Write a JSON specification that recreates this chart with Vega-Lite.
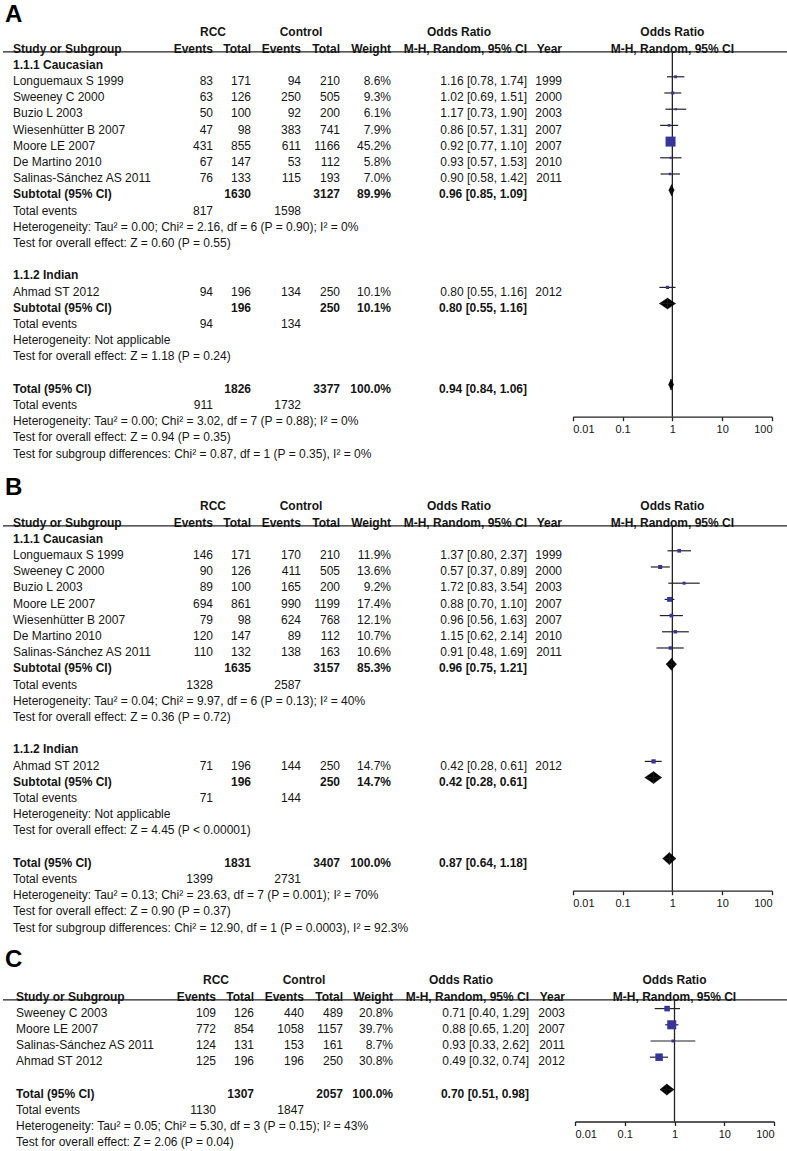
{
"$schema": "https://vega.github.io/schema/vega-lite/v6.json",
"padding": {"left": 2, "top": 0, "right": 0, "bottom": 0},
"bounds": "flush",
"spacing": 0,
"config": {"view": {"stroke": null}, "font": "Liberation Sans", "text": {"font": "Liberation Sans", "fontSize": 12, "color": "#151515"}},
"datasets": {
"tab": [
{"p":"A","r":-2,"k":"h","e1":"RCC","e2":"Control","oh":"Odds Ratio","ph":"Odds Ratio"},
{"p":"A","r":-1,"k":"b","s":"Study or Subgroup","e1":"Events","t1":"Total","e2":"Events","t2":"Total","w":"Weight","or":"M-H, Random, 95% CI","yr":"Year","ph":"M-H, Random, 95% CI"},
{"p":"A","r":0,"k":"b","s":"1.1.1 Caucasian"},
{"p":"A","r":1,"k":"n","s":"Longuemaux S 1999","e1":"83","t1":"171","e2":"94","t2":"210","w":"8.6%","or":"1.16 [0.78, 1.74]","yr":"1999"},
{"p":"A","r":2,"k":"n","s":"Sweeney C 2000","e1":"63","t1":"126","e2":"250","t2":"505","w":"9.3%","or":"1.02 [0.69, 1.51]","yr":"2000"},
{"p":"A","r":3,"k":"n","s":"Buzio L 2003","e1":"50","t1":"100","e2":"92","t2":"200","w":"6.1%","or":"1.17 [0.73, 1.90]","yr":"2003"},
{"p":"A","r":4,"k":"n","s":"Wiesenhütter B 2007","e1":"47","t1":"98","e2":"383","t2":"741","w":"7.9%","or":"0.86 [0.57, 1.31]","yr":"2007"},
{"p":"A","r":5,"k":"n","s":"Moore LE 2007","e1":"431","t1":"855","e2":"611","t2":"1166","w":"45.2%","or":"0.92 [0.77, 1.10]","yr":"2007"},
{"p":"A","r":6,"k":"n","s":"De Martino 2010","e1":"67","t1":"147","e2":"53","t2":"112","w":"5.8%","or":"0.93 [0.57, 1.53]","yr":"2010"},
{"p":"A","r":7,"k":"n","s":"Salinas-Sánchez AS 2011","e1":"76","t1":"133","e2":"115","t2":"193","w":"7.0%","or":"0.90 [0.58, 1.42]","yr":"2011"},
{"p":"A","r":8,"k":"b","s":"Subtotal (95% CI)","t1":"1630","t2":"3127","w":"89.9%","or":"0.96 [0.85, 1.09]"},
{"p":"A","r":9,"k":"n","s":"Total events","e1":"817","e2":"1598"},
{"p":"A","r":10,"k":"n","s":"Heterogeneity: Tau² = 0.00; Chi² = 2.16, df = 6 (P = 0.90); I² = 0%"},
{"p":"A","r":11,"k":"n","s":"Test for overall effect: Z = 0.60 (P = 0.55)"},
{"p":"A","r":13,"k":"b","s":"1.1.2 Indian"},
{"p":"A","r":14,"k":"n","s":"Ahmad ST 2012","e1":"94","t1":"196","e2":"134","t2":"250","w":"10.1%","or":"0.80 [0.55, 1.16]","yr":"2012"},
{"p":"A","r":15,"k":"b","s":"Subtotal (95% CI)","t1":"196","t2":"250","w":"10.1%","or":"0.80 [0.55, 1.16]"},
{"p":"A","r":16,"k":"n","s":"Total events","e1":"94","e2":"134"},
{"p":"A","r":17,"k":"n","s":"Heterogeneity: Not applicable"},
{"p":"A","r":18,"k":"n","s":"Test for overall effect: Z = 1.18 (P = 0.24)"},
{"p":"A","r":20,"k":"b","s":"Total (95% CI)","t1":"1826","t2":"3377","w":"100.0%","or":"0.94 [0.84, 1.06]"},
{"p":"A","r":21,"k":"n","s":"Total events","e1":"911","e2":"1732"},
{"p":"A","r":22,"k":"n","s":"Heterogeneity: Tau² = 0.00; Chi² = 3.02, df = 7 (P = 0.88); I² = 0%"},
{"p":"A","r":23,"k":"n","s":"Test for overall effect: Z = 0.94 (P = 0.35)"},
{"p":"A","r":24,"k":"n","s":"Test for subgroup differences: Chi² = 0.87, df = 1 (P = 0.35), I² = 0%"},
{"p":"B","r":-2,"k":"h","e1":"RCC","e2":"Control","oh":"Odds Ratio","ph":"Odds Ratio"},
{"p":"B","r":-1,"k":"b","s":"Study or Subgroup","e1":"Events","t1":"Total","e2":"Events","t2":"Total","w":"Weight","or":"M-H, Random, 95% CI","yr":"Year","ph":"M-H, Random, 95% CI"},
{"p":"B","r":0,"k":"b","s":"1.1.1 Caucasian"},
{"p":"B","r":1,"k":"n","s":"Longuemaux S 1999","e1":"146","t1":"171","e2":"170","t2":"210","w":"11.9%","or":"1.37 [0.80, 2.37]","yr":"1999"},
{"p":"B","r":2,"k":"n","s":"Sweeney C 2000","e1":"90","t1":"126","e2":"411","t2":"505","w":"13.6%","or":"0.57 [0.37, 0.89]","yr":"2000"},
{"p":"B","r":3,"k":"n","s":"Buzio L 2003","e1":"89","t1":"100","e2":"165","t2":"200","w":"9.2%","or":"1.72 [0.83, 3.54]","yr":"2003"},
{"p":"B","r":4,"k":"n","s":"\u00a0Moore LE 2007","e1":"694","t1":"861","e2":"990","t2":"1199","w":"17.4%","or":"0.88 [0.70, 1.10]","yr":"2007"},
{"p":"B","r":5,"k":"n","s":"\u00a0Wiesenhütter B 2007","e1":"79","t1":"98","e2":"624","t2":"768","w":"12.1%","or":"0.96 [0.56, 1.63]","yr":"2007"},
{"p":"B","r":6,"k":"n","s":"\u00a0De Martino 2010","e1":"120","t1":"147","e2":"89","t2":"112","w":"10.7%","or":"1.15 [0.62, 2.14]","yr":"2010"},
{"p":"B","r":7,"k":"n","s":"Salinas-Sánchez AS 2011","e1":"110","t1":"132","e2":"138","t2":"163","w":"10.6%","or":"0.91 [0.48, 1.69]","yr":"2011"},
{"p":"B","r":8,"k":"b","s":"Subtotal (95% CI)","t1":"1635","t2":"3157","w":"85.3%","or":"0.96 [0.75, 1.21]"},
{"p":"B","r":9,"k":"n","s":"Total events","e1":"1328","e2":"2587"},
{"p":"B","r":10,"k":"n","s":"Heterogeneity: Tau² = 0.04; Chi² = 9.97, df = 6 (P = 0.13); I² = 40%"},
{"p":"B","r":11,"k":"n","s":"Test for overall effect: Z = 0.36 (P = 0.72)"},
{"p":"B","r":13,"k":"b","s":"1.1.2 Indian"},
{"p":"B","r":14,"k":"n","s":"Ahmad ST 2012","e1":"71","t1":"196","e2":"144","t2":"250","w":"14.7%","or":"0.42 [0.28, 0.61]","yr":"2012"},
{"p":"B","r":15,"k":"b","s":"Subtotal (95% CI)","t1":"196","t2":"250","w":"14.7%","or":"0.42 [0.28, 0.61]"},
{"p":"B","r":16,"k":"n","s":"Total events","e1":"71","e2":"144"},
{"p":"B","r":17,"k":"n","s":"Heterogeneity: Not applicable"},
{"p":"B","r":18,"k":"n","s":"Test for overall effect: Z = 4.45 (P < 0.00001)"},
{"p":"B","r":20,"k":"b","s":"Total (95% CI)","t1":"1831","t2":"3407","w":"100.0%","or":"0.87 [0.64, 1.18]"},
{"p":"B","r":21,"k":"n","s":"Total events","e1":"1399","e2":"2731"},
{"p":"B","r":22,"k":"n","s":"Heterogeneity: Tau² = 0.13; Chi² = 23.63, df = 7 (P = 0.001); I² = 70%"},
{"p":"B","r":23,"k":"n","s":"Test for overall effect: Z = 0.90 (P = 0.37)"},
{"p":"B","r":24,"k":"n","s":"Test for subgroup differences: Chi² = 12.90, df = 1 (P = 0.0003), I² = 92.3%"},
{"p":"C","r":-1,"k":"h","e1":"RCC","e2":"Control","oh":"Odds Ratio","ph":"Odds Ratio"},
{"p":"C","r":0,"k":"b","s":"Study or Subgroup","e1":"Events","t1":"Total","e2":"Events","t2":"Total","w":"Weight","or":"M-H, Random, 95% CI","yr":"Year","ph":"M-H, Random, 95% CI"},
{"p":"C","r":1,"k":"n","s":"Sweeney C 2003","e1":"109","t1":"126","e2":"440","t2":"489","w":"20.8%","or":"0.71 [0.40, 1.29]","yr":"2003"},
{"p":"C","r":2,"k":"n","s":"\u00a0Moore LE 2007","e1":"772","t1":"854","e2":"1058","t2":"1157","w":"39.7%","or":"0.88 [0.65, 1.20]","yr":"2007"},
{"p":"C","r":3,"k":"n","s":"Salinas-Sánchez AS 2011","e1":"124","t1":"131","e2":"153","t2":"161","w":"8.7%","or":"0.93 [0.33, 2.62]","yr":"2011"},
{"p":"C","r":4,"k":"n","s":"Ahmad ST 2012","e1":"125","t1":"196","e2":"196","t2":"250","w":"30.8%","or":"0.49 [0.32, 0.74]","yr":"2012"},
{"p":"C","r":6,"k":"b","s":"Total (95% CI)","t1":"1307","t2":"2057","w":"100.0%","or":"0.70 [0.51, 0.98]"},
{"p":"C","r":7,"k":"n","s":"Total events","e1":"1130","e2":"1847"},
{"p":"C","r":8,"k":"n","s":"Heterogeneity: Tau² = 0.05; Chi² = 5.30, df = 3 (P = 0.15); I² = 43%"},
{"p":"C","r":9,"k":"n","s":"Test for overall effect: Z = 2.06 (P = 0.04)"}
],
"fp": [
{"p":"A","r":1,"kind":"s","or":1.16,"lo":0.78,"hi":1.74,"wt":8.6},
{"p":"A","r":2,"kind":"s","or":1.02,"lo":0.69,"hi":1.51,"wt":9.3},
{"p":"A","r":3,"kind":"s","or":1.17,"lo":0.73,"hi":1.90,"wt":6.1},
{"p":"A","r":4,"kind":"s","or":0.86,"lo":0.57,"hi":1.31,"wt":7.9},
{"p":"A","r":5,"kind":"s","or":0.92,"lo":0.77,"hi":1.10,"wt":45.2},
{"p":"A","r":6,"kind":"s","or":0.93,"lo":0.57,"hi":1.53,"wt":5.8},
{"p":"A","r":7,"kind":"s","or":0.90,"lo":0.58,"hi":1.42,"wt":7.0},
{"p":"A","r":8,"kind":"d","or":0.96,"lo":0.85,"hi":1.09},
{"p":"A","r":14,"kind":"s","or":0.80,"lo":0.55,"hi":1.16,"wt":10.1},
{"p":"A","r":15,"kind":"d","or":0.80,"lo":0.55,"hi":1.16},
{"p":"A","r":20,"kind":"d","or":0.94,"lo":0.84,"hi":1.06},
{"p":"B","r":1,"kind":"s","or":1.37,"lo":0.80,"hi":2.37,"wt":11.9},
{"p":"B","r":2,"kind":"s","or":0.57,"lo":0.37,"hi":0.89,"wt":13.6},
{"p":"B","r":3,"kind":"s","or":1.72,"lo":0.83,"hi":3.54,"wt":9.2},
{"p":"B","r":4,"kind":"s","or":0.88,"lo":0.70,"hi":1.10,"wt":17.4},
{"p":"B","r":5,"kind":"s","or":0.96,"lo":0.56,"hi":1.63,"wt":12.1},
{"p":"B","r":6,"kind":"s","or":1.15,"lo":0.62,"hi":2.14,"wt":10.7},
{"p":"B","r":7,"kind":"s","or":0.91,"lo":0.48,"hi":1.69,"wt":10.6},
{"p":"B","r":8,"kind":"d","or":0.96,"lo":0.75,"hi":1.21},
{"p":"B","r":14,"kind":"s","or":0.42,"lo":0.28,"hi":0.61,"wt":14.7},
{"p":"B","r":15,"kind":"d","or":0.42,"lo":0.28,"hi":0.61},
{"p":"B","r":20,"kind":"d","or":0.87,"lo":0.64,"hi":1.18},
{"p":"C","r":1,"kind":"s","or":0.71,"lo":0.40,"hi":1.29,"wt":20.8},
{"p":"C","r":2,"kind":"s","or":0.88,"lo":0.65,"hi":1.20,"wt":39.7},
{"p":"C","r":3,"kind":"s","or":0.93,"lo":0.33,"hi":2.62,"wt":8.7},
{"p":"C","r":4,"kind":"s","or":0.49,"lo":0.32,"hi":0.74,"wt":30.8},
{"p":"C","r":6,"kind":"d","or":0.70,"lo":0.51,"hi":0.98}
]
},
"vconcat": [
{
"width": 785, "height": 474,
"resolve": {"scale": {"x": "independent", "y": "independent"}},
"layer": [
{
"resolve": {"scale": {"x": "independent"}},
"layer": [
{"data": {"values": [{}]}, "mark": {"type": "rule", "stroke": "#222", "strokeWidth": 1.3}, "encoding": {"y": {"datum": -0.8, "type": "quantitative", "scale": {"domain": [-4, 25.259], "reverse": true, "nice": false, "zero": false}, "axis": null}}},
{"data": {"values": [{"c": "lbl", "t": "A"}]}, "mark": {"type": "text", "align": "left", "baseline": "alphabetic", "fontSize": 24, "fontWeight": "bold", "color": "#000"},
 "encoding": {"x": {"field": "c", "type": "nominal", "scale": {"type": "point", "domain": ["lbl"], "range": [2, 2], "padding": 0}, "axis": null}, "y": {"datum": -2.64, "type": "quantitative"}, "text": {"field": "t"}}},
{"data": {"name": "tab"}, "transform": [{"filter": "datum.p=='A'"}, {"fold": ["s"], "as": ["c", "t"]}, {"filter": "isValid(datum.t)"}],
 "mark": {"type": "text", "align": "left", "baseline": "middle", "fontSize": 12, "fontWeight": {"expr": "datum.k=='n' ? 'normal' : 'bold'"}},
 "encoding": {"x": {"field": "c", "type": "nominal", "scale": {"type": "point", "domain": ["s"], "range": [10, 10], "padding": 0}, "axis": null}, "y": {"field": "r", "type": "quantitative"}, "text": {"field": "t"}}},
{"data": {"name": "tab"}, "transform": [{"filter": "datum.p=='A'"}, {"fold": ["e1", "t1"], "as": ["c", "t"]}, {"filter": "isValid(datum.t)"}],
 "mark": {"type": "text", "align": {"expr": "datum.k=='h' ? 'center' : 'right'"}, "baseline": "middle", "fontSize": 12, "fontWeight": {"expr": "datum.k=='n' ? 'normal' : 'bold'"}},
 "encoding": {"x": {"field": "c", "type": "nominal", "scale": {"type": "point", "domain": ["e1", "t1"], "range": [210, 248], "padding": 0}, "axis": null}, "y": {"field": "r", "type": "quantitative"}, "text": {"field": "t"}}},
{"data": {"name": "tab"}, "transform": [{"filter": "datum.p=='A'"}, {"fold": ["e2", "t2"], "as": ["c", "t"]}, {"filter": "isValid(datum.t)"}],
 "mark": {"type": "text", "align": {"expr": "datum.k=='h' ? 'center' : 'right'"}, "baseline": "middle", "fontSize": 12, "fontWeight": {"expr": "datum.k=='n' ? 'normal' : 'bold'"}},
 "encoding": {"x": {"field": "c", "type": "nominal", "scale": {"type": "point", "domain": ["e2", "t2"], "range": [298, 337], "padding": 0}, "axis": null}, "y": {"field": "r", "type": "quantitative"}, "text": {"field": "t"}}},
{"data": {"name": "tab"}, "transform": [{"filter": "datum.p=='A'"}, {"fold": ["w", "oh", "or"], "as": ["c", "t"]}, {"filter": "isValid(datum.t)"}],
 "mark": {"type": "text", "align": {"expr": "datum.k=='h' ? 'center' : 'right'"}, "baseline": "middle", "fontSize": 12, "fontWeight": {"expr": "datum.k=='n' ? 'normal' : 'bold'"}},
 "encoding": {"x": {"field": "c", "type": "nominal", "scale": {"type": "point", "domain": ["w", "oh", "or"], "range": [388, 524], "padding": 0}, "axis": null}, "y": {"field": "r", "type": "quantitative"}, "text": {"field": "t"}}},
{"data": {"name": "tab"}, "transform": [{"filter": "datum.p=='A'"}, {"fold": ["yr"], "as": ["c", "t"]}, {"filter": "isValid(datum.t)"}],
 "mark": {"type": "text", "align": "right", "baseline": "middle", "fontSize": 12, "fontWeight": {"expr": "datum.k=='n' ? 'normal' : 'bold'"}},
 "encoding": {"x": {"field": "c", "type": "nominal", "scale": {"type": "point", "domain": ["yr"], "range": [559, 559], "padding": 0}, "axis": null}, "y": {"field": "r", "type": "quantitative"}, "text": {"field": "t"}}},
{"data": {"name": "tab"}, "transform": [{"filter": "datum.p=='A'"}, {"fold": ["ph"], "as": ["c", "t"]}, {"filter": "isValid(datum.t)"}],
 "mark": {"type": "text", "align": "center", "baseline": "middle", "fontSize": 12, "fontWeight": "bold"},
 "encoding": {"x": {"datum": 1, "type": "quantitative", "scale": {"type": "log", "domain": [0.01, 100], "range": [569.7, 769], "nice": false}, "axis": null}, "y": {"field": "r", "type": "quantitative"}, "text": {"field": "t"}}}
]
},
{
"resolve": {"scale": {"y": "independent"}},
"layer": [
{
"layer": [
{"data": {"values": [{}]}, "mark": {"type": "rule", "stroke": "#222", "strokeWidth": 1.3},
 "encoding": {"x": {"datum": 1, "type": "quantitative", "scale": {"type": "log", "domain": [0.01, 100], "range": [569.7, 769], "nice": false}, "axis": {"orient": "bottom", "offset": -57.3, "values": [0.01, 0.1, 1, 10, 100], "format": "~g", "title": null, "grid": false, "domainColor": "#222", "domainWidth": 1.3, "tickColor": "#222", "tickWidth": 1.3, "tickSize": 4, "labelFontSize": 11, "labelFont": "Liberation Sans", "labelColor": "#151515", "labelPadding": 3}}, "y": {"datum": -0.55, "type": "quantitative", "scale": {"domain": [-3.74, 25.519], "reverse": true, "nice": false, "zero": false}, "axis": null}, "y2": {"datum": 21.98}}},
{"data": {"name": "fp"}, "transform": [{"filter": "datum.p=='A' && datum.kind=='s'"}], "mark": {"type": "rule", "stroke": "#222", "strokeWidth": 1.2},
 "encoding": {"x": {"field": "lo", "type": "quantitative"}, "x2": {"field": "hi"}, "y": {"field": "r", "type": "quantitative"}}},
{"data": {"name": "fp"}, "transform": [{"filter": "datum.p=='A' && datum.kind=='s'"}], "mark": {"type": "point", "shape": "square", "filled": true, "color": "#35359a", "opacity": 1, "strokeWidth": 0},
 "encoding": {"x": {"field": "or", "type": "quantitative"}, "y": {"field": "r", "type": "quantitative"}, "size": {"field": "wt", "type": "quantitative", "scale": {"type": "pow", "exponent": 1.5, "domain": [0, 50], "range": [0, 116]}, "legend": null}}}
]
},
{
"layer": [
{"data": {"name": "fp"}, "transform": [{"filter": "datum.p=='A' && datum.kind=='d'"}, {"fold": ["or", "lo"], "as": ["pt", "v"]}],
 "mark": {"type": "area", "color": "#000", "opacity": 1, "orient": "horizontal", "stroke": "#000", "strokeWidth": 0.4},
 "encoding": {"x": {"field": "v", "type": "quantitative", "stack": null}, "x2": {"field": "or"}, "y": {"field": "r", "type": "ordinal", "scale": {"type": "point", "domain": [8,9,10,11,12,13,14,15,16,17,18,19,20], "range": [190.19, 384.59], "padding": 0}, "axis": null}, "yOffset": {"field": "pt", "type": "nominal", "scale": {"type": "point", "domain": ["or", "lo"], "range": [-5.5, 0], "padding": 0}}, "detail": {"field": "r", "type": "nominal"}}},
{"data": {"name": "fp"}, "transform": [{"filter": "datum.p=='A' && datum.kind=='d'"}, {"fold": ["or", "hi"], "as": ["pt", "v"]}],
 "mark": {"type": "area", "color": "#000", "opacity": 1, "orient": "horizontal", "stroke": "#000", "strokeWidth": 0.4},
 "encoding": {"x": {"field": "or", "type": "quantitative", "stack": null}, "x2": {"field": "v"}, "y": {"field": "r", "type": "ordinal", "axis": null}, "yOffset": {"field": "pt", "type": "nominal", "scale": {"type": "point", "domain": ["or", "hi"], "range": [-5.5, 0], "padding": 0}}, "detail": {"field": "r", "type": "nominal"}}},
{"data": {"name": "fp"}, "transform": [{"filter": "datum.p=='A' && datum.kind=='d'"}, {"fold": ["or", "lo"], "as": ["pt", "v"]}],
 "mark": {"type": "area", "color": "#000", "opacity": 1, "orient": "horizontal", "stroke": "#000", "strokeWidth": 0.4},
 "encoding": {"x": {"field": "v", "type": "quantitative", "stack": null}, "x2": {"field": "or"}, "y": {"field": "r", "type": "ordinal", "axis": null}, "yOffset": {"field": "pt", "type": "nominal", "scale": {"type": "point", "domain": ["or", "lo"], "range": [5.5, 0], "padding": 0}}, "detail": {"field": "r", "type": "nominal"}}},
{"data": {"name": "fp"}, "transform": [{"filter": "datum.p=='A' && datum.kind=='d'"}, {"fold": ["or", "hi"], "as": ["pt", "v"]}],
 "mark": {"type": "area", "color": "#000", "opacity": 1, "orient": "horizontal", "stroke": "#000", "strokeWidth": 0.4},
 "encoding": {"x": {"field": "or", "type": "quantitative", "stack": null}, "x2": {"field": "v"}, "y": {"field": "r", "type": "ordinal", "axis": null}, "yOffset": {"field": "pt", "type": "nominal", "scale": {"type": "point", "domain": ["or", "hi"], "range": [5.5, 0], "padding": 0}}, "detail": {"field": "r", "type": "nominal"}}}
],
"resolve": {"scale": {"yOffset": "independent"}}
}
]
}
]
},
{
"width": 785, "height": 473.5,
"resolve": {"scale": {"x": "independent", "y": "independent"}},
"layer": [
{
"resolve": {"scale": {"x": "independent"}},
"layer": [
{"data": {"values": [{}]}, "mark": {"type": "rule", "stroke": "#222", "strokeWidth": 1.3}, "encoding": {"y": {"datum": -0.8, "type": "quantitative", "scale": {"domain": [-4, 25.228], "reverse": true, "nice": false, "zero": false}, "axis": null}}},
{"data": {"values": [{"c": "lbl", "t": "B"}]}, "mark": {"type": "text", "align": "left", "baseline": "alphabetic", "fontSize": 24, "fontWeight": "bold", "color": "#000"},
 "encoding": {"x": {"field": "c", "type": "nominal", "scale": {"type": "point", "domain": ["lbl"], "range": [2, 2], "padding": 0}, "axis": null}, "y": {"datum": -2.7, "type": "quantitative"}, "text": {"field": "t"}}},
{"data": {"name": "tab"}, "transform": [{"filter": "datum.p=='B'"}, {"fold": ["s"], "as": ["c", "t"]}, {"filter": "isValid(datum.t)"}],
 "mark": {"type": "text", "align": "left", "baseline": "middle", "fontSize": 12, "fontWeight": {"expr": "datum.k=='n' ? 'normal' : 'bold'"}},
 "encoding": {"x": {"field": "c", "type": "nominal", "scale": {"type": "point", "domain": ["s"], "range": [10, 10], "padding": 0}, "axis": null}, "y": {"field": "r", "type": "quantitative"}, "text": {"field": "t"}}},
{"data": {"name": "tab"}, "transform": [{"filter": "datum.p=='B'"}, {"fold": ["e1", "t1"], "as": ["c", "t"]}, {"filter": "isValid(datum.t)"}],
 "mark": {"type": "text", "align": {"expr": "datum.k=='h' ? 'center' : 'right'"}, "baseline": "middle", "fontSize": 12, "fontWeight": {"expr": "datum.k=='n' ? 'normal' : 'bold'"}},
 "encoding": {"x": {"field": "c", "type": "nominal", "scale": {"type": "point", "domain": ["e1", "t1"], "range": [210, 248], "padding": 0}, "axis": null}, "y": {"field": "r", "type": "quantitative"}, "text": {"field": "t"}}},
{"data": {"name": "tab"}, "transform": [{"filter": "datum.p=='B'"}, {"fold": ["e2", "t2"], "as": ["c", "t"]}, {"filter": "isValid(datum.t)"}],
 "mark": {"type": "text", "align": {"expr": "datum.k=='h' ? 'center' : 'right'"}, "baseline": "middle", "fontSize": 12, "fontWeight": {"expr": "datum.k=='n' ? 'normal' : 'bold'"}},
 "encoding": {"x": {"field": "c", "type": "nominal", "scale": {"type": "point", "domain": ["e2", "t2"], "range": [298, 337], "padding": 0}, "axis": null}, "y": {"field": "r", "type": "quantitative"}, "text": {"field": "t"}}},
{"data": {"name": "tab"}, "transform": [{"filter": "datum.p=='B'"}, {"fold": ["w", "oh", "or"], "as": ["c", "t"]}, {"filter": "isValid(datum.t)"}],
 "mark": {"type": "text", "align": {"expr": "datum.k=='h' ? 'center' : 'right'"}, "baseline": "middle", "fontSize": 12, "fontWeight": {"expr": "datum.k=='n' ? 'normal' : 'bold'"}},
 "encoding": {"x": {"field": "c", "type": "nominal", "scale": {"type": "point", "domain": ["w", "oh", "or"], "range": [388, 524], "padding": 0}, "axis": null}, "y": {"field": "r", "type": "quantitative"}, "text": {"field": "t"}}},
{"data": {"name": "tab"}, "transform": [{"filter": "datum.p=='B'"}, {"fold": ["yr"], "as": ["c", "t"]}, {"filter": "isValid(datum.t)"}],
 "mark": {"type": "text", "align": "right", "baseline": "middle", "fontSize": 12, "fontWeight": {"expr": "datum.k=='n' ? 'normal' : 'bold'"}},
 "encoding": {"x": {"field": "c", "type": "nominal", "scale": {"type": "point", "domain": ["yr"], "range": [559, 559], "padding": 0}, "axis": null}, "y": {"field": "r", "type": "quantitative"}, "text": {"field": "t"}}},
{"data": {"name": "tab"}, "transform": [{"filter": "datum.p=='B'"}, {"fold": ["ph"], "as": ["c", "t"]}, {"filter": "isValid(datum.t)"}],
 "mark": {"type": "text", "align": "center", "baseline": "middle", "fontSize": 12, "fontWeight": "bold"},
 "encoding": {"x": {"datum": 1, "type": "quantitative", "scale": {"type": "log", "domain": [0.01, 100], "range": [569.7, 769], "nice": false}, "axis": null}, "y": {"field": "r", "type": "quantitative"}, "text": {"field": "t"}}}
]
},
{
"resolve": {"scale": {"y": "independent"}},
"layer": [
{
"layer": [
{"data": {"values": [{}]}, "mark": {"type": "rule", "stroke": "#222", "strokeWidth": 1.3},
 "encoding": {"x": {"datum": 1, "type": "quantitative", "scale": {"type": "log", "domain": [0.01, 100], "range": [569.7, 769], "nice": false}, "axis": {"orient": "bottom", "offset": -56.8, "values": [0.01, 0.1, 1, 10, 100], "format": "~g", "title": null, "grid": false, "domainColor": "#222", "domainWidth": 1.3, "tickColor": "#222", "tickWidth": 1.3, "tickSize": 4, "labelFontSize": 11, "labelFont": "Liberation Sans", "labelColor": "#151515", "labelPadding": 3}}, "y": {"datum": -0.55, "type": "quantitative", "scale": {"domain": [-3.74, 25.488], "reverse": true, "nice": false, "zero": false}, "axis": null}, "y2": {"datum": 21.98}}},
{"data": {"name": "fp"}, "transform": [{"filter": "datum.p=='B' && datum.kind=='s'"}], "mark": {"type": "rule", "stroke": "#222", "strokeWidth": 1.2},
 "encoding": {"x": {"field": "lo", "type": "quantitative"}, "x2": {"field": "hi"}, "y": {"field": "r", "type": "quantitative"}}},
{"data": {"name": "fp"}, "transform": [{"filter": "datum.p=='B' && datum.kind=='s'"}], "mark": {"type": "point", "shape": "square", "filled": true, "color": "#35359a", "opacity": 1, "strokeWidth": 0},
 "encoding": {"x": {"field": "or", "type": "quantitative"}, "y": {"field": "r", "type": "quantitative"}, "size": {"field": "wt", "type": "quantitative", "scale": {"type": "pow", "exponent": 1.5, "domain": [0, 50], "range": [0, 116]}, "legend": null}}}
]
},
{
"layer": [
{"data": {"name": "fp"}, "transform": [{"filter": "datum.p=='B' && datum.kind=='d'"}, {"fold": ["or", "lo"], "as": ["pt", "v"]}],
 "mark": {"type": "area", "color": "#000", "opacity": 1, "orient": "horizontal", "stroke": "#000", "strokeWidth": 0.4},
 "encoding": {"x": {"field": "v", "type": "quantitative", "stack": null}, "x2": {"field": "or"}, "y": {"field": "r", "type": "ordinal", "scale": {"type": "point", "domain": [8,9,10,11,12,13,14,15,16,17,18,19,20], "range": [190.19, 384.59], "padding": 0}, "axis": null}, "yOffset": {"field": "pt", "type": "nominal", "scale": {"type": "point", "domain": ["or", "lo"], "range": [-6, 0], "padding": 0}}, "detail": {"field": "r", "type": "nominal"}}},
{"data": {"name": "fp"}, "transform": [{"filter": "datum.p=='B' && datum.kind=='d'"}, {"fold": ["or", "hi"], "as": ["pt", "v"]}],
 "mark": {"type": "area", "color": "#000", "opacity": 1, "orient": "horizontal", "stroke": "#000", "strokeWidth": 0.4},
 "encoding": {"x": {"field": "or", "type": "quantitative", "stack": null}, "x2": {"field": "v"}, "y": {"field": "r", "type": "ordinal", "axis": null}, "yOffset": {"field": "pt", "type": "nominal", "scale": {"type": "point", "domain": ["or", "hi"], "range": [-6, 0], "padding": 0}}, "detail": {"field": "r", "type": "nominal"}}},
{"data": {"name": "fp"}, "transform": [{"filter": "datum.p=='B' && datum.kind=='d'"}, {"fold": ["or", "lo"], "as": ["pt", "v"]}],
 "mark": {"type": "area", "color": "#000", "opacity": 1, "orient": "horizontal", "stroke": "#000", "strokeWidth": 0.4},
 "encoding": {"x": {"field": "v", "type": "quantitative", "stack": null}, "x2": {"field": "or"}, "y": {"field": "r", "type": "ordinal", "axis": null}, "yOffset": {"field": "pt", "type": "nominal", "scale": {"type": "point", "domain": ["or", "lo"], "range": [6, 0], "padding": 0}}, "detail": {"field": "r", "type": "nominal"}}},
{"data": {"name": "fp"}, "transform": [{"filter": "datum.p=='B' && datum.kind=='d'"}, {"fold": ["or", "hi"], "as": ["pt", "v"]}],
 "mark": {"type": "area", "color": "#000", "opacity": 1, "orient": "horizontal", "stroke": "#000", "strokeWidth": 0.4},
 "encoding": {"x": {"field": "or", "type": "quantitative", "stack": null}, "x2": {"field": "v"}, "y": {"field": "r", "type": "ordinal", "axis": null}, "yOffset": {"field": "pt", "type": "nominal", "scale": {"type": "point", "domain": ["or", "hi"], "range": [6, 0], "padding": 0}}, "detail": {"field": "r", "type": "nominal"}}}
],
"resolve": {"scale": {"yOffset": "independent"}}
}
]
}
]
},
{
"width": 785, "height": 203.5,
"resolve": {"scale": {"x": "independent", "y": "independent"}},
"layer": [
{
"resolve": {"scale": {"x": "independent"}},
"layer": [
{"data": {"values": [{}]}, "mark": {"type": "rule", "stroke": "#222", "strokeWidth": 1.3}, "encoding": {"y": {"datum": 0.2, "type": "quantitative", "scale": {"domain": [-3, 9.562], "reverse": true, "nice": false, "zero": false}, "axis": null}}},
{"data": {"values": [{"c": "lbl", "t": "C"}]}, "mark": {"type": "text", "align": "left", "baseline": "alphabetic", "fontSize": 24, "fontWeight": "bold", "color": "#000"},
 "encoding": {"x": {"field": "c", "type": "nominal", "scale": {"type": "point", "domain": ["lbl"], "range": [2, 2], "padding": 0}, "axis": null}, "y": {"datum": -1.82, "type": "quantitative"}, "text": {"field": "t"}}},
{"data": {"name": "tab"}, "transform": [{"filter": "datum.p=='C'"}, {"fold": ["s"], "as": ["c", "t"]}, {"filter": "isValid(datum.t)"}],
 "mark": {"type": "text", "align": "left", "baseline": "middle", "fontSize": 12, "fontWeight": {"expr": "datum.k=='n' ? 'normal' : 'bold'"}},
 "encoding": {"x": {"field": "c", "type": "nominal", "scale": {"type": "point", "domain": ["s"], "range": [13, 13], "padding": 0}, "axis": null}, "y": {"field": "r", "type": "quantitative"}, "text": {"field": "t"}}},
{"data": {"name": "tab"}, "transform": [{"filter": "datum.p=='C'"}, {"fold": ["e1", "t1"], "as": ["c", "t"]}, {"filter": "isValid(datum.t)"}],
 "mark": {"type": "text", "align": {"expr": "datum.k=='h' ? 'center' : 'right'"}, "baseline": "middle", "fontSize": 12, "fontWeight": {"expr": "datum.k=='n' ? 'normal' : 'bold'"}},
 "encoding": {"x": {"field": "c", "type": "nominal", "scale": {"type": "point", "domain": ["e1", "t1"], "range": [213, 251], "padding": 0}, "axis": null}, "y": {"field": "r", "type": "quantitative"}, "text": {"field": "t"}}},
{"data": {"name": "tab"}, "transform": [{"filter": "datum.p=='C'"}, {"fold": ["e2", "t2"], "as": ["c", "t"]}, {"filter": "isValid(datum.t)"}],
 "mark": {"type": "text", "align": {"expr": "datum.k=='h' ? 'center' : 'right'"}, "baseline": "middle", "fontSize": 12, "fontWeight": {"expr": "datum.k=='n' ? 'normal' : 'bold'"}},
 "encoding": {"x": {"field": "c", "type": "nominal", "scale": {"type": "point", "domain": ["e2", "t2"], "range": [301, 340], "padding": 0}, "axis": null}, "y": {"field": "r", "type": "quantitative"}, "text": {"field": "t"}}},
{"data": {"name": "tab"}, "transform": [{"filter": "datum.p=='C'"}, {"fold": ["w", "oh", "or"], "as": ["c", "t"]}, {"filter": "isValid(datum.t)"}],
 "mark": {"type": "text", "align": {"expr": "datum.k=='h' ? 'center' : 'right'"}, "baseline": "middle", "fontSize": 12, "fontWeight": {"expr": "datum.k=='n' ? 'normal' : 'bold'"}},
 "encoding": {"x": {"field": "c", "type": "nominal", "scale": {"type": "point", "domain": ["w", "oh", "or"], "range": [390, 526], "padding": 0}, "axis": null}, "y": {"field": "r", "type": "quantitative"}, "text": {"field": "t"}}},
{"data": {"name": "tab"}, "transform": [{"filter": "datum.p=='C'"}, {"fold": ["yr"], "as": ["c", "t"]}, {"filter": "isValid(datum.t)"}],
 "mark": {"type": "text", "align": "right", "baseline": "middle", "fontSize": 12, "fontWeight": {"expr": "datum.k=='n' ? 'normal' : 'bold'"}},
 "encoding": {"x": {"field": "c", "type": "nominal", "scale": {"type": "point", "domain": ["yr"], "range": [562, 562], "padding": 0}, "axis": null}, "y": {"field": "r", "type": "quantitative"}, "text": {"field": "t"}}},
{"data": {"name": "tab"}, "transform": [{"filter": "datum.p=='C'"}, {"fold": ["ph"], "as": ["c", "t"]}, {"filter": "isValid(datum.t)"}],
 "mark": {"type": "text", "align": "center", "baseline": "middle", "fontSize": 12, "fontWeight": "bold"},
 "encoding": {"x": {"datum": 1, "type": "quantitative", "scale": {"type": "log", "domain": [0.01, 100], "range": [572, 771], "nice": false}, "axis": null}, "y": {"field": "r", "type": "quantitative"}, "text": {"field": "t"}}}
]
},
{
"resolve": {"scale": {"y": "independent"}},
"layer": [
{
"layer": [
{"data": {"values": [{}]}, "mark": {"type": "rule", "stroke": "#222", "strokeWidth": 1.3},
 "encoding": {"x": {"datum": 1, "type": "quantitative", "scale": {"type": "log", "domain": [0.01, 100], "range": [572, 771], "nice": false}, "axis": {"orient": "bottom", "offset": -30, "values": [0.01, 0.1, 1, 10, 100], "format": "~g", "title": null, "grid": false, "domainColor": "#222", "domainWidth": 1.3, "tickColor": "#222", "tickWidth": 1.3, "tickSize": 4, "labelFontSize": 11, "labelFont": "Liberation Sans", "labelColor": "#151515", "labelPadding": 3}}, "y": {"datum": 0.457, "type": "quantitative", "scale": {"domain": [-2.74, 9.822], "reverse": true, "nice": false, "zero": false}, "axis": null}, "y2": {"datum": 7.97}}},
{"data": {"name": "fp"}, "transform": [{"filter": "datum.p=='C' && datum.kind=='s'"}], "mark": {"type": "rule", "stroke": "#222", "strokeWidth": 1.2},
 "encoding": {"x": {"field": "lo", "type": "quantitative"}, "x2": {"field": "hi"}, "y": {"field": "r", "type": "quantitative"}}},
{"data": {"name": "fp"}, "transform": [{"filter": "datum.p=='C' && datum.kind=='s'"}], "mark": {"type": "point", "shape": "square", "filled": true, "color": "#35359a", "opacity": 1, "strokeWidth": 0},
 "encoding": {"x": {"field": "or", "type": "quantitative"}, "y": {"field": "r", "type": "quantitative"}, "size": {"field": "wt", "type": "quantitative", "scale": {"type": "pow", "exponent": 1.5, "domain": [0, 50], "range": [0, 116]}, "legend": null}}}
]
},
{
"layer": [
{"data": {"name": "fp"}, "transform": [{"filter": "datum.p=='C' && datum.kind=='d'"}, {"fold": ["or", "lo"], "as": ["pt", "v"]}],
 "mark": {"type": "area", "color": "#000", "opacity": 1, "orient": "horizontal", "stroke": "#000", "strokeWidth": 0.4},
 "encoding": {"x": {"field": "v", "type": "quantitative", "stack": null}, "x2": {"field": "or"}, "y": {"field": "r", "type": "ordinal", "scale": {"type": "point", "domain": [5, 6, 7], "range": [125.39, 157.79], "padding": 0}, "axis": null}, "yOffset": {"field": "pt", "type": "nominal", "scale": {"type": "point", "domain": ["or", "lo"], "range": [-5.5, 0], "padding": 0}}, "detail": {"field": "r", "type": "nominal"}}},
{"data": {"name": "fp"}, "transform": [{"filter": "datum.p=='C' && datum.kind=='d'"}, {"fold": ["or", "hi"], "as": ["pt", "v"]}],
 "mark": {"type": "area", "color": "#000", "opacity": 1, "orient": "horizontal", "stroke": "#000", "strokeWidth": 0.4},
 "encoding": {"x": {"field": "or", "type": "quantitative", "stack": null}, "x2": {"field": "v"}, "y": {"field": "r", "type": "ordinal", "axis": null}, "yOffset": {"field": "pt", "type": "nominal", "scale": {"type": "point", "domain": ["or", "hi"], "range": [-5.5, 0], "padding": 0}}, "detail": {"field": "r", "type": "nominal"}}},
{"data": {"name": "fp"}, "transform": [{"filter": "datum.p=='C' && datum.kind=='d'"}, {"fold": ["or", "lo"], "as": ["pt", "v"]}],
 "mark": {"type": "area", "color": "#000", "opacity": 1, "orient": "horizontal", "stroke": "#000", "strokeWidth": 0.4},
 "encoding": {"x": {"field": "v", "type": "quantitative", "stack": null}, "x2": {"field": "or"}, "y": {"field": "r", "type": "ordinal", "axis": null}, "yOffset": {"field": "pt", "type": "nominal", "scale": {"type": "point", "domain": ["or", "lo"], "range": [5.5, 0], "padding": 0}}, "detail": {"field": "r", "type": "nominal"}}},
{"data": {"name": "fp"}, "transform": [{"filter": "datum.p=='C' && datum.kind=='d'"}, {"fold": ["or", "hi"], "as": ["pt", "v"]}],
 "mark": {"type": "area", "color": "#000", "opacity": 1, "orient": "horizontal", "stroke": "#000", "strokeWidth": 0.4},
 "encoding": {"x": {"field": "or", "type": "quantitative", "stack": null}, "x2": {"field": "v"}, "y": {"field": "r", "type": "ordinal", "axis": null}, "yOffset": {"field": "pt", "type": "nominal", "scale": {"type": "point", "domain": ["or", "hi"], "range": [5.5, 0], "padding": 0}}, "detail": {"field": "r", "type": "nominal"}}}
],
"resolve": {"scale": {"yOffset": "independent"}}
}
]
}
]
}
]
}
